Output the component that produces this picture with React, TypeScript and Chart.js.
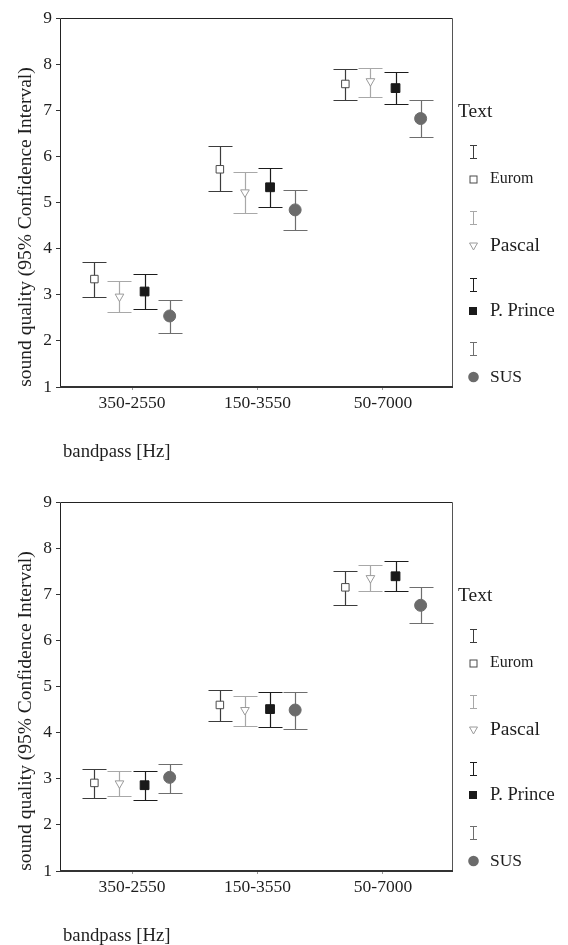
import React, { useEffect, useRef } from 'react';
import { Chart, registerables } from 'chart.js';

Chart.register(...registerables);

const categories = ['350-2550', '150-3550', '50-7000'];
const seriesNames = ['Eurom', 'Pascal', 'P. Prince', 'SUS'];
const yTickValues = [1, 2, 3, 4, 5, 6, 7, 8, 9];
const legendTitle = 'Text';
const yTitle = 'sound quality (95% Confidence Interval)';
const xTitle = 'bandpass [Hz]';

// upper chart
const topEuromMean = [3.34, 5.72, 7.57];
const topEuromLow = [2.95, 5.25, 7.23];
const topEuromHigh = [3.72, 6.22, 7.89];
const topPascalMean = [2.96, 5.22, 7.63];
const topPascalLow = [2.62, 4.77, 7.28];
const topPascalHigh = [3.3, 5.67, 7.92];
const topPrinceMean = [3.07, 5.33, 7.48];
const topPrinceLow = [2.69, 4.9, 7.14];
const topPrinceHigh = [3.45, 5.75, 7.84];
const topSusMean = [2.54, 4.84, 6.82];
const topSusLow = [2.17, 4.41, 6.41];
const topSusHigh = [2.89, 5.28, 7.23];

// lower chart
const botEuromMean = [2.91, 4.6, 7.15];
const botEuromLow = [2.59, 4.26, 6.77];
const botEuromHigh = [3.21, 4.92, 7.51];
const botPascalMean = [2.9, 4.49, 7.35];
const botPascalLow = [2.62, 4.15, 7.08];
const botPascalHigh = [3.16, 4.8, 7.64];
const botPrinceMean = [2.86, 4.51, 7.39];
const botPrinceLow = [2.53, 4.13, 7.08];
const botPrinceHigh = [3.16, 4.89, 7.73];
const botSusMean = [3.03, 4.49, 6.76];
const botSusLow = [2.7, 4.07, 6.37];
const botSusHigh = [3.33, 4.87, 7.15];

const FONT = '"Liberation Serif", "Times New Roman", serif';
const TEXT_COLOR = '#1e1e1e';

const seriesOffsets = [-0.3, -0.1, 0.1, 0.3];
const seriesStyles = [
  { errColor: '#3c3c3c', pointStyle: 'rect', radius: 5.3, bg: '#ffffff', border: '#4a4a4a', rotation: 0, labelSize: 16 },
  { errColor: '#a8a8a8', pointStyle: 'triangle', radius: 5, bg: '#ffffff', border: '#9a9a9a', rotation: 180, labelSize: 19.5 },
  { errColor: '#1c1c1c', pointStyle: 'rect', radius: 6.2, bg: '#1a1a1a', border: '#1a1a1a', rotation: 0, labelSize: 18.5 },
  { errColor: '#6e6e6e', pointStyle: 'circle', radius: 6, bg: '#6b6b6b', border: '#6b6b6b', rotation: 0, labelSize: 17.5 },
];

type Series = { mean: number[]; low: number[]; high: number[] };

const topSeries: Series[] = [
  { mean: topEuromMean, low: topEuromLow, high: topEuromHigh },
  { mean: topPascalMean, low: topPascalLow, high: topPascalHigh },
  { mean: topPrinceMean, low: topPrinceLow, high: topPrinceHigh },
  { mean: topSusMean, low: topSusLow, high: topSusHigh },
];
const botSeries: Series[] = [
  { mean: botEuromMean, low: botEuromLow, high: botEuromHigh },
  { mean: botPascalMean, low: botPascalLow, high: botPascalHigh },
  { mean: botPrinceMean, low: botPrinceLow, high: botPrinceHigh },
  { mean: botSusMean, low: botSusLow, high: botSusHigh },
];

const CANVAS_W = 568;
const CANVAS_H = 484;

const decorPlugin = {
  id: 'decor',
  beforeDatasetsDraw(chart: any) {
    const { ctx, chartArea, scales } = chart;
    const { x, y } = scales;
    const l = Math.round(chartArea.left) + 0.5;
    const t = Math.round(chartArea.top) + 0.5;
    const r = Math.round(chartArea.right) + 0.5;
    const b = Math.round(chartArea.bottom);
    // frame
    ctx.save();
    ctx.lineWidth = 1;
    ctx.strokeStyle = '#222';
    ctx.beginPath();
    ctx.moveTo(l, b);
    ctx.lineTo(l, t);
    ctx.lineTo(r, t);
    ctx.stroke();
    ctx.strokeStyle = '#555';
    ctx.beginPath();
    ctx.moveTo(r, t);
    ctx.lineTo(r, b);
    ctx.stroke();
    ctx.lineWidth = 2;
    ctx.strokeStyle = '#333';
    ctx.beginPath();
    ctx.moveTo(l - 0.5, b);
    ctx.lineTo(r + 0.5, b);
    ctx.stroke();
    ctx.restore();
    // error bars
    chart.data.datasets.forEach((ds: any) => {
      ctx.save();
      ctx.strokeStyle = ds.errColor;
      ctx.lineWidth = 1.2;
      ds.data.forEach((p: any, i: number) => {
        const px = Math.round(x.getPixelForValue(p.x)) + 0.5;
        const yl = Math.round(y.getPixelForValue(ds.errLow[i])) + 0.5;
        const yh = Math.round(y.getPixelForValue(ds.errHigh[i])) + 0.5;
        ctx.beginPath();
        ctx.moveTo(px, yl);
        ctx.lineTo(px, yh);
        ctx.moveTo(px - 12, yl);
        ctx.lineTo(px + 12, yl);
        ctx.moveTo(px - 12, yh);
        ctx.lineTo(px + 12, yh);
        ctx.stroke();
      });
      ctx.restore();
    });
  },
  afterDraw(chart: any) {
    const { ctx, chartArea } = chart;
    const { top, bottom, right } = chartArea;
    ctx.save();
    ctx.fillStyle = TEXT_COLOR;
    // y title
    ctx.save();
    ctx.translate(26, top + 209);
    ctx.rotate(-Math.PI / 2);
    ctx.font = `19.5px ${FONT}`;
    ctx.textAlign = 'center';
    ctx.textBaseline = 'middle';
    ctx.fillText(yTitle, 0, 0);
    ctx.restore();
    // x title
    ctx.font = `18.7px ${FONT}`;
    ctx.textAlign = 'left';
    ctx.textBaseline = 'middle';
    ctx.fillText(xTitle, 63, bottom + 65);
    // legend
    ctx.font = `19.5px ${FONT}`;
    ctx.fillText(legendTitle, right + 6, top + 94);
    const errYs = [133, 199, 266, 330];
    const markYs = [161, 228, 293, 359];
    const lx = Math.round(right + 21) + 0.5;
    seriesNames.forEach((name, k) => {
      const st = seriesStyles[k];
      const ey = top + errYs[k];
      ctx.save();
      ctx.strokeStyle = st.errColor;
      ctx.lineWidth = 1;
      ctx.beginPath();
      ctx.moveTo(lx, Math.round(ey - 6.5) + 0.5);
      ctx.lineTo(lx, Math.round(ey + 6.5) + 0.5);
      ctx.moveTo(lx - 3.5, Math.round(ey - 6.5) + 0.5);
      ctx.lineTo(lx + 3.5, Math.round(ey - 6.5) + 0.5);
      ctx.moveTo(lx - 3.5, Math.round(ey + 6.5) + 0.5);
      ctx.lineTo(lx + 3.5, Math.round(ey + 6.5) + 0.5);
      ctx.stroke();
      ctx.restore();
      const my = top + markYs[k];
      ctx.save();
      if (k === 0) {
        ctx.fillStyle = '#fff';
        ctx.strokeStyle = st.border;
        ctx.lineWidth = 1;
        ctx.fillRect(lx - 3.5, Math.round(my) - 3, 7, 7);
        ctx.strokeRect(lx - 3.5, Math.round(my) - 3, 7, 7);
      } else if (k === 1) {
        ctx.strokeStyle = st.border;
        ctx.lineWidth = 1;
        ctx.beginPath();
        ctx.moveTo(lx - 4, my - 3);
        ctx.lineTo(lx + 4, my - 3);
        ctx.lineTo(lx, my + 4);
        ctx.closePath();
        ctx.stroke();
      } else if (k === 2) {
        ctx.fillStyle = st.bg;
        ctx.fillRect(lx - 4.5, Math.round(my) - 4, 8, 8);
      } else {
        ctx.fillStyle = st.bg;
        ctx.beginPath();
        ctx.arc(lx, my, 5.3, 0, Math.PI * 2);
        ctx.fill();
      }
      ctx.restore();
      ctx.fillStyle = TEXT_COLOR;
      ctx.font = `${st.labelSize}px ${FONT}`;
      ctx.textAlign = 'left';
      ctx.textBaseline = 'middle';
      ctx.fillText(name, right + 38, my);
    });
    ctx.restore();
  },
};

function ErrorChart({ series }: { series: Series[] }) {
  const ref = useRef<HTMLCanvasElement | null>(null);
  useEffect(() => {
    if (!ref.current) return;
    const datasets = series.map((s, k) => {
      const st = seriesStyles[k];
      return {
        type: 'scatter',
        label: seriesNames[k],
        data: categories.map((_, i) => ({ x: i + seriesOffsets[k], y: s.mean[i] })),
        errLow: s.low,
        errHigh: s.high,
        errColor: st.errColor,
        pointStyle: st.pointStyle,
        pointRadius: st.radius,
        pointRotation: st.rotation,
        pointBackgroundColor: st.bg,
        pointBorderColor: st.border,
        pointBorderWidth: 1,
        showLine: false,
      };
    });
    const chart = new Chart(ref.current, {
      type: 'scatter',
      data: { datasets } as any,
      options: {
        responsive: false,
        animation: false,
        events: [],
        layout: { padding: { top: 18, left: 0, right: CANVAS_W - 452, bottom: 0 } },
        plugins: { legend: { display: false }, tooltip: { enabled: false } },
        scales: {
          x: {
            type: 'linear',
            min: -0.574,
            max: 2.55,
            afterBuildTicks: (scale: any) => {
              scale.ticks = categories.map((_, i) => ({ value: i }));
            },
            afterFit: (scale: any) => {
              scale.height = CANVAS_H - 387;
            },
            grid: { display: true, drawOnChartArea: false, drawTicks: true, tickLength: 3, color: '#999' },
            border: { display: false },
            ticks: {
              padding: 3,
              autoSkip: false,
              maxRotation: 0,
              color: TEXT_COLOR,
              font: { family: FONT, size: 17.5 },
              callback: (v: any) => categories[Math.round(Number(v))] ?? '',
            },
          },
          y: {
            type: 'linear',
            min: 1,
            max: 9,
            afterBuildTicks: (scale: any) => {
              scale.ticks = yTickValues.map((v) => ({ value: v }));
            },
            afterFit: (scale: any) => {
              scale.width = 60;
            },
            grid: { display: true, drawOnChartArea: false, drawTicks: true, tickLength: 4, color: '#333' },
            border: { display: false },
            ticks: {
              padding: 4,
              color: TEXT_COLOR,
              font: { family: FONT, size: 17.5 },
              callback: (v: any) => String(v),
            },
          },
        },
      } as any,
      plugins: [decorPlugin],
    });
    return () => chart.destroy();
  }, [series]);
  return <canvas ref={ref} width={CANVAS_W} height={CANVAS_H} style={{ display: 'block' }} />;
}

export default function App() {
  return (
    <div style={{ position: 'absolute', left: 0, top: 0, width: 568, height: 945, overflow: 'hidden', background: '#fff' }}>
      <div style={{ position: 'absolute', left: 0, top: 0 }}>
        <ErrorChart series={topSeries} />
      </div>
      <div style={{ position: 'absolute', left: 0, top: 484 }}>
        <ErrorChart series={botSeries} />
      </div>
    </div>
  );
}
